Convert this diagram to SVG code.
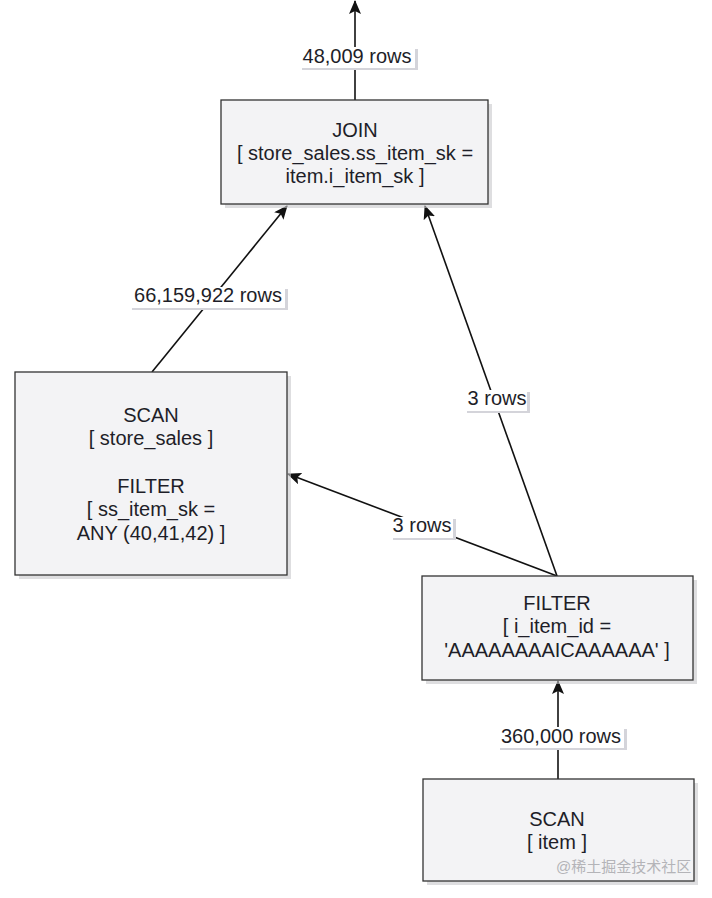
<svg xmlns="http://www.w3.org/2000/svg" width="712" height="898" viewBox="0 0 712 898">
<defs>
<style>
.box{fill:#f3f3f5;stroke:#333;stroke-width:1.3}
.shadow{fill:#c8c8cc;opacity:0.6}
.t{font-family:"Liberation Sans",Arial,sans-serif;font-size:20px;fill:#1e1e28;text-anchor:middle}
.lbl{fill:#fff}
.lsh{fill:#d4d4da}
.edge{stroke:#111;stroke-width:1.6;fill:none;marker-end:url(#ah)}
.wm{font-family:"Liberation Sans","Noto Sans CJK SC",sans-serif;font-size:15px;fill:#b4b4b8}
</style>
<marker id="ah" viewBox="0 0 14 12" refX="13" refY="6" markerWidth="14" markerHeight="12" markerUnits="userSpaceOnUse" orient="auto">
<path d="M0,0 L14,6 L0,12 L3,6 Z" fill="#111"/>
</marker>
</defs>
<rect width="712" height="898" fill="#fff"/>

<g id="connectors">
<line class="edge" x1="355" y1="100" x2="355" y2="1"/>
<line class="edge" x1="152" y1="372" x2="287" y2="206"/>
<line class="edge" x1="557" y1="576" x2="425" y2="206"/>
<line class="edge" x1="557" y1="576" x2="288" y2="474"/>
<line class="edge" x1="558" y1="779" x2="558" y2="681"/>
<g id="label-48009">
<rect class="lsh" x="302" y="49" width="116" height="21"/>
<rect class="lbl" x="300" y="47" width="115" height="21"/>
<text class="t" x="357" y="63">48,009 rows</text>
</g>
<g id="label-66159922">
<rect class="lsh" x="132" y="289" width="156" height="21"/>
<rect class="lbl" x="130" y="287" width="155" height="21"/>
<text class="t" x="208" y="302">66,159,922 rows</text>
</g>
<g id="label-3rows-a">
<rect class="lsh" x="467" y="392" width="63" height="21"/>
<rect class="lbl" x="465" y="390" width="62" height="21"/>
<text class="t" x="497" y="405">3 rows</text>
</g>
<g id="label-3rows-b">
<rect class="lsh" x="393" y="519" width="63" height="21"/>
<rect class="lbl" x="391" y="517" width="62" height="21"/>
<text class="t" x="422" y="532">3 rows</text>
</g>
<g id="label-360000">
<rect class="lsh" x="500" y="729" width="127" height="21"/>
<rect class="lbl" x="498" y="727" width="126" height="21"/>
<text class="t" x="561" y="743">360,000 rows</text>
</g>
</g>

<g id="node-join">
<rect class="shadow" x="225" y="104" width="267" height="104"/>
<rect class="box" x="221" y="100" width="267" height="104"/>
<text class="t" x="355" y="137">JOIN</text>
<text class="t" x="355" y="160">[ store_sales.ss_item_sk =</text>
<text class="t" x="355" y="183">item.i_item_sk ]</text>
</g>

<g id="node-scan-store-sales">
<rect class="shadow" x="19" y="376" width="272" height="203"/>
<rect class="box" x="15" y="372" width="272" height="203"/>
<text class="t" x="151" y="422">SCAN</text>
<text class="t" x="151" y="445">[ store_sales ]</text>
<text class="t" x="151" y="493">FILTER</text>
<text class="t" x="151" y="516">[ ss_item_sk =</text>
<text class="t" x="151" y="540">ANY (40,41,42) ]</text>
</g>

<g id="node-filter">
<rect class="shadow" x="426" y="580" width="271" height="104"/>
<rect class="box" x="422" y="576" width="271" height="104"/>
<text class="t" x="557" y="610">FILTER</text>
<text class="t" x="557" y="633">[ i_item_id =</text>
<text class="t" x="557" y="657">'AAAAAAAAICAAAAAA' ]</text>
</g>

<g id="node-scan-item">
<rect class="shadow" x="427" y="783" width="271" height="102"/>
<rect class="box" x="423" y="779" width="271" height="102"/>
<text class="t" x="557" y="826">SCAN</text>
<text class="t" x="557" y="849">[ item ]</text>
</g>

<text class="wm" x="556" y="872">@稀土掘金技术社区</text>
</svg>
